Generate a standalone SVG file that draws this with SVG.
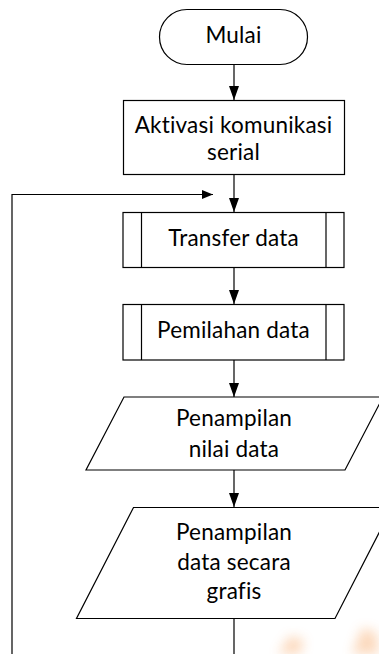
<svg xmlns="http://www.w3.org/2000/svg" width="379" height="654" viewBox="0 0 379 654">
  <style>
    .shape { fill: #ffffff; stroke: #000000; stroke-width: 1.2; }
    .inner { fill: none; stroke: #000000; stroke-width: 1.2; }
    .conn { fill: none; stroke: #000000; stroke-width: 1.2; }
    .label { font-family: Lato, "Liberation Sans", sans-serif; font-size: 22.5px; letter-spacing: 0.2px; font-variant-ligatures: none; fill: #000000; text-anchor: middle; }
  </style>
  <defs>
    <marker id="arrow" viewBox="0 0 14 10" refX="14" refY="5" markerWidth="14" markerHeight="10" markerUnits="userSpaceOnUse" orient="auto">
      <path d="M0,0 L14,5 L0,10 z" fill="#000000"/>
    </marker>
    <marker id="arrowSmall" viewBox="0 0 11 9" refX="11" refY="4.5" markerWidth="11" markerHeight="9" markerUnits="userSpaceOnUse" orient="auto">
      <path d="M0,0 L11,4.5 L0,9 z" fill="#000000"/>
    </marker>
    <filter id="blur" x="-50%" y="-50%" width="200%" height="200%">
      <feGaussianBlur stdDeviation="6"/>
    </filter>
  </defs>

  <rect width="379" height="654" fill="#ffffff"/>

  <g id="watermark" filter="url(#blur)" opacity="0.4">
    <polygon points="278,654 290,636 304,640 300,654" fill="#f7a15c"/>
    <polygon points="352,654 362,628 376,632 379,654" fill="#f7a15c"/>
  </g>

  <g id="connectors">
    <line class="conn" x1="234" y1="64" x2="234" y2="100" marker-end="url(#arrow)"/>
    <line class="conn" x1="234" y1="175" x2="234" y2="212" marker-end="url(#arrow)"/>
    <line class="conn" x1="234" y1="267" x2="234" y2="304" marker-end="url(#arrow)"/>
    <line class="conn" x1="234" y1="360" x2="234" y2="397" marker-end="url(#arrow)"/>
    <line class="conn" x1="234" y1="470" x2="234" y2="507" marker-end="url(#arrow)"/>
    <line class="conn" x1="234" y1="618" x2="234" y2="654"/>
    <polyline class="conn" points="12,654 12,194.5 213,194.5" marker-end="url(#arrowSmall)"/>
  </g>

  <g id="start">
    <rect class="shape" x="159.5" y="9.5" width="148" height="55" rx="27.5" ry="27.5"/>
    <text class="label" x="233.5" y="43">Mulai</text>
  </g>

  <g id="aktivasi">
    <rect class="shape" x="123.5" y="100.5" width="221" height="74"/>
    <text class="label" x="233.5" y="132.5">Aktivasi komunikasi</text>
    <text class="label" x="233.5" y="159.5">serial</text>
  </g>

  <g id="transfer">
    <rect class="shape" x="123" y="212.5" width="221" height="55"/>
    <line class="inner" x1="141.5" y1="212.5" x2="141.5" y2="267.5"/>
    <line class="inner" x1="326" y1="212.5" x2="326" y2="267.5"/>
    <text class="label" x="233.5" y="246">Transfer data</text>
  </g>

  <g id="pemilahan">
    <rect class="shape" x="123" y="304.5" width="221" height="55.5"/>
    <line class="inner" x1="141.5" y1="304.5" x2="141.5" y2="360"/>
    <line class="inner" x1="326" y1="304.5" x2="326" y2="360"/>
    <text class="label" x="233.5" y="338">Pemilahan data</text>
  </g>

  <g id="nilai">
    <polygon class="shape" points="124,397 383,397 345,470 86,470"/>
    <text class="label" x="234" y="425.5">Penampilan</text>
    <text class="label" x="234" y="456.5">nilai data</text>
  </g>

  <g id="grafis">
    <polygon class="shape" points="133.5,507.5 392,507.5 335,618.5 76.5,618.5"/>
    <text class="label" x="234" y="540">Penampilan</text>
    <text class="label" x="234" y="569.5">data secara</text>
    <text class="label" x="234" y="598.5">grafis</text>
  </g>
</svg>
